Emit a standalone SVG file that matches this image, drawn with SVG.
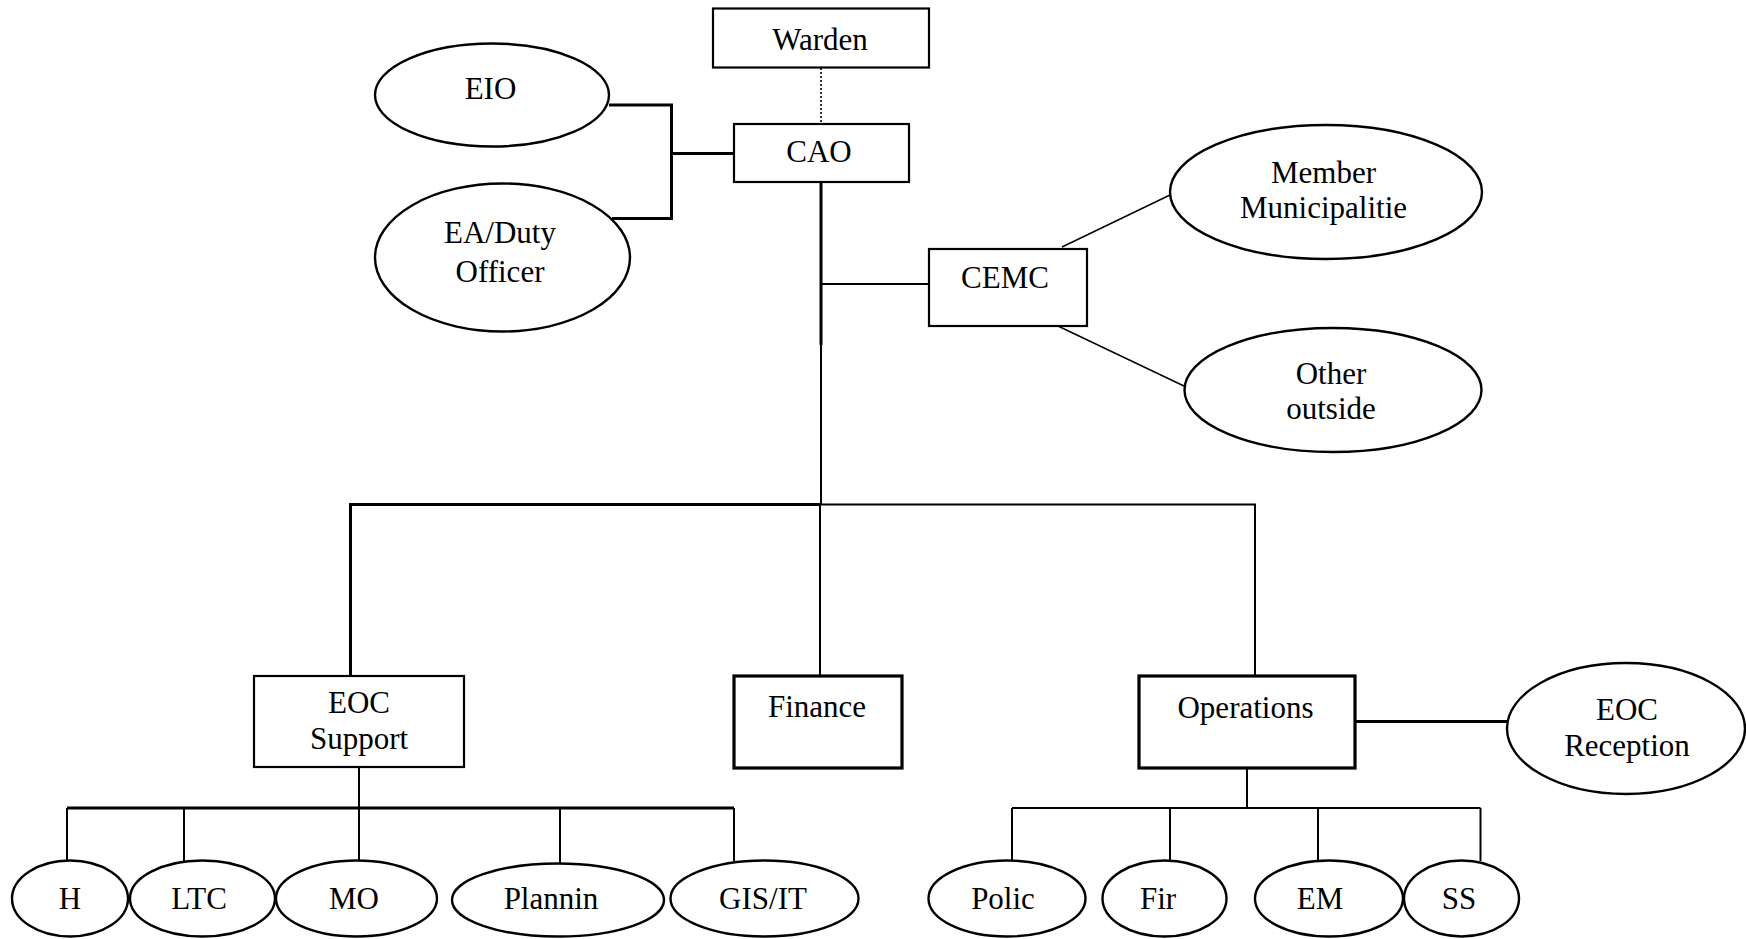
<svg xmlns="http://www.w3.org/2000/svg" width="1746" height="939" viewBox="0 0 1746 939">
<style>
  text { font-family: "Liberation Serif", "Times New Roman", serif; font-size: 31px; fill: #000; text-anchor: middle; }
  .box { fill: #fff; stroke: #000; stroke-width: 2.2; }
  .boxb { fill: #fff; stroke: #000; stroke-width: 3.2; }
  .ell { fill: #fff; stroke: #000; stroke-width: 2.4; }
  .ln { fill: none; stroke: #000; stroke-width: 2; }
  .lnb { fill: none; stroke: #000; stroke-width: 3; }
  .lnt { fill: none; stroke: #000; stroke-width: 1.4; }
  .dot { fill: none; stroke: #000; stroke-width: 1.6; stroke-dasharray: 2 2; }
</style>
<rect x="0" y="0" width="1746" height="939" fill="#fff"/>
<g id="connectors">
  <line class="dot" x1="821" y1="68" x2="821" y2="124"/>
  <polyline class="lnb" points="609,105 671.5,105 671.5,218.5 612,218.5"/>
  <line class="lnb" x1="671.5" y1="153.5" x2="734" y2="153.5"/>
  <line class="lnb" x1="821" y1="182" x2="821" y2="345"/>
  <line class="ln" x1="821" y1="345" x2="821" y2="504.5"/>
  <line class="ln" x1="821" y1="284" x2="929" y2="284"/>
  <line class="lnt" x1="1062" y1="247" x2="1170" y2="195"/>
  <line class="lnt" x1="1059" y1="326.5" x2="1185" y2="386.5"/>
  <polyline class="lnb" points="350.5,676 350.5,504.5 821,504.5"/>
  <polyline class="ln" points="821,504.5 1255,504.5 1255,676"/>
  <line class="ln" x1="820" y1="504.5" x2="820" y2="676"/>
  <line class="lnb" x1="1355" y1="721.5" x2="1507" y2="721.5"/>
  <line class="ln" x1="359" y1="767" x2="359" y2="808"/>
  <line class="lnb" x1="67" y1="808" x2="734" y2="808"/>
  <polyline class="ln" points="67,808 67,860"/>
  <line class="ln" x1="184" y1="808" x2="184" y2="861"/>
  <line class="ln" x1="359" y1="808" x2="359" y2="861"/>
  <line class="ln" x1="560" y1="808" x2="560" y2="863"/>
  <line class="ln" x1="734" y1="808" x2="734" y2="861"/>
  <line class="ln" x1="1247" y1="768" x2="1247" y2="808"/>
  <line class="ln" x1="1012" y1="808" x2="1480.5" y2="808"/>
  <line class="ln" x1="1012" y1="808" x2="1012" y2="860"/>
  <line class="ln" x1="1170" y1="808" x2="1170" y2="861"/>
  <line class="ln" x1="1318" y1="808" x2="1318" y2="860"/>
  <line class="ln" x1="1480.5" y1="808" x2="1480.5" y2="861"/>
</g>
<g id="warden"><rect class="box" x="713" y="8.5" width="216" height="59"/><text x="820" y="50">Warden</text></g>
<g id="cao"><rect class="box" x="734" y="124" width="175" height="58"/><text x="819" y="162">CAO</text></g>
<g id="eio"><ellipse class="ell" cx="492" cy="95" rx="117" ry="51.5"/><text x="490.5" y="99">EIO</text></g>
<g id="ea-duty"><ellipse class="ell" cx="502.5" cy="257.5" rx="127.5" ry="74"/><text x="500" y="243">EA/Duty</text><text x="500" y="281.5">Officer</text></g>
<g id="cemc"><rect class="box" x="929" y="249" width="158" height="77"/><text x="1005" y="288">CEMC</text></g>
<g id="member"><ellipse class="ell" cx="1326" cy="192" rx="156" ry="67"/><text x="1323.5" y="183">Member</text><text x="1323.5" y="218">Municipalitie</text></g>
<g id="other"><ellipse class="ell" cx="1333" cy="390" rx="148.5" ry="62"/><text x="1331" y="384">Other</text><text x="1331" y="419">outside</text></g>
<g id="eoc-support"><rect class="box" x="254" y="676" width="210" height="91"/><text x="359" y="713">EOC</text><text x="359" y="749">Support</text></g>
<g id="finance"><rect class="boxb" x="734" y="676" width="168" height="92"/><text x="817" y="717">Finance</text></g>
<g id="operations"><rect class="boxb" x="1139" y="676" width="216" height="92"/><text x="1245.5" y="718">Operations</text></g>
<g id="eoc-reception"><ellipse class="ell" cx="1626" cy="728.5" rx="119" ry="65.5"/><text x="1627" y="720">EOC</text><text x="1627" y="756">Reception</text></g>
<g id="h"><ellipse class="ell" cx="70" cy="898.5" rx="58" ry="38"/><text x="70" y="909">H</text></g>
<g id="ltc"><ellipse class="ell" cx="202.5" cy="898.5" rx="72.5" ry="38"/><text x="199" y="909">LTC</text></g>
<g id="mo"><ellipse class="ell" cx="356.5" cy="898.5" rx="80.5" ry="38"/><text x="354" y="909">MO</text></g>
<g id="plannin"><ellipse class="ell" cx="558" cy="900" rx="106" ry="36.5"/><text x="551" y="909">Plannin</text></g>
<g id="gis-it"><ellipse class="ell" cx="764.5" cy="898.5" rx="94" ry="38"/><text x="763" y="909">GIS/IT</text></g>
<g id="polic"><ellipse class="ell" cx="1007" cy="898.5" rx="78.5" ry="38"/><text x="1003" y="909">Polic</text></g>
<g id="fir"><ellipse class="ell" cx="1164.5" cy="898.5" rx="62" ry="38"/><text x="1158" y="909">Fir</text></g>
<g id="em"><ellipse class="ell" cx="1329" cy="898.5" rx="74" ry="38"/><text x="1320" y="909">EM</text></g>
<g id="ss"><ellipse class="ell" cx="1461.5" cy="898.5" rx="57.5" ry="38"/><text x="1459" y="909">SS</text></g>
</svg>
